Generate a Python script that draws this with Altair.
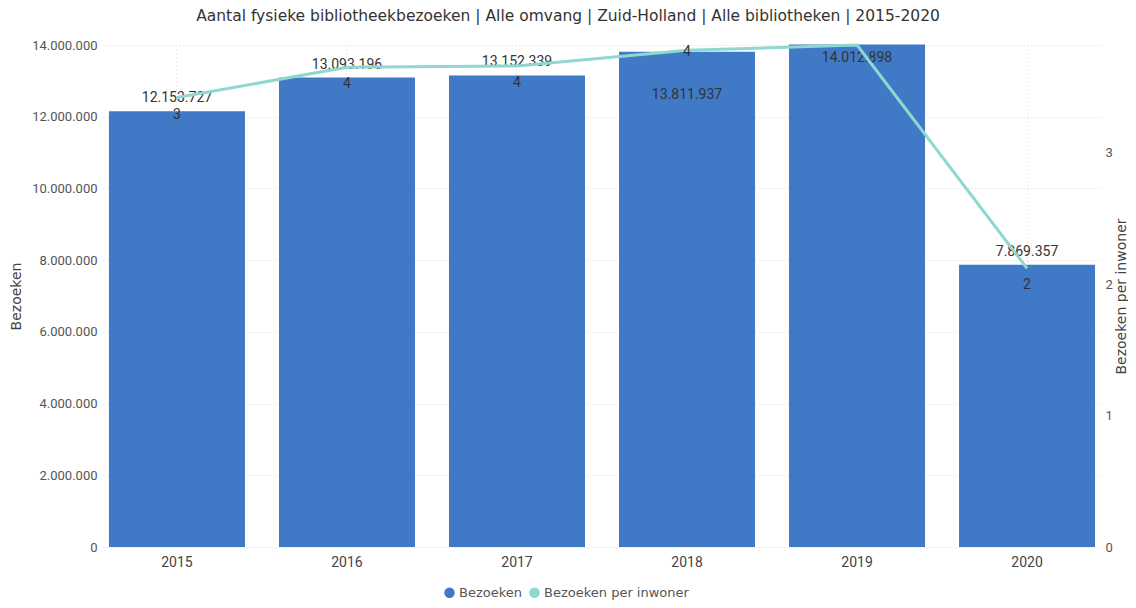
import altair as alt
import pandas as pd

years = ["2015", "2016", "2017", "2018", "2019", "2020"]
bezoeken = [12153727, 13093196, 13152339, 13811937, 14012898, 7869357]
per_inwoner = [3.42, 3.65, 3.66, 3.78, 3.82, 2.12]
series_names = ["Bezoeken", "Bezoeken per inwoner"]
series_colors = ["#4079C5", "#8FD7D1"]
left_ticks = [0, 2000000, 4000000, 6000000, 8000000, 10000000, 12000000, 14000000]
right_ticks = [0, 1, 2, 3]

df = pd.DataFrame({"year": years, "bezoeken": bezoeken, "per_inwoner": per_inwoner})

FONT = "Roboto"
WIDE = "DejaVu Sans"
base = alt.Chart(df)

x = alt.X("year:N", title=None,
          scale=alt.Scale(paddingInner=0.2, paddingOuter=0.035),
          axis=alt.Axis(labelAngle=0, ticks=False, domain=False, labelPadding=8,
                        grid=True, gridDash=[1, 3], gridColor="#d9d9d9",
                        labelFontSize=14, labelColor="#444", labelFont=FONT))

color = alt.Color("series:N",
                  scale=alt.Scale(domain=series_names, range=series_colors),
                  legend=alt.Legend(title=None, orient="none", legendX=340, legendY=541,
                                    direction="horizontal", symbolType="circle",
                                    symbolSize=110, symbolStrokeWidth=0,
                                    labelFontSize=13, labelColor="#555", labelFont=WIDE,
                                    columnPadding=6, symbolOffset=0, labelOffset=3))

yl = alt.Y("bezoeken:Q", title="Bezoeken",
           scale=alt.Scale(domain=[0, 14000000], nice=False),
           axis=alt.Axis(orient="left", values=left_ticks, labelExpr="format(datum.value, ',')",
                         domain=False, ticks=False,
                         grid=True, gridDash=[1, 3], gridColor="#d0d0d0",
                         labelFontSize=13, labelColor="#555", labelFont=FONT, labelPadding=6,
                         titleFontSize=14, titleColor="#444", titleFont=WIDE, titleFontWeight="normal",
                         titlePadding=8))

bars = base.mark_bar().transform_calculate(series="'Bezoeken'").encode(x=x, y=yl, color=color)

lbl_style = dict(fontSize=14, color="#333", font=FONT, baseline="middle")
bar_lbl_above = base.transform_filter(
    alt.FieldOneOfPredicate(field="year", oneOf=["2015", "2016", "2017", "2020"])
).mark_text(dy=-13, **lbl_style).encode(x=x, y=yl, text=alt.Text("bezoeken:Q", format=","))
bar_lbl_2018 = base.transform_filter(alt.datum.year == "2018").mark_text(dy=43, **lbl_style).encode(
    x=x, y=yl, text=alt.Text("bezoeken:Q", format=","))
bar_lbl_2019 = base.transform_filter(alt.datum.year == "2019").mark_text(dy=13, **lbl_style).encode(
    x=x, y=yl, text=alt.Text("bezoeken:Q", format=","))

left = alt.layer(bars, bar_lbl_above, bar_lbl_2018, bar_lbl_2019)

yr = alt.Y("per_inwoner:Q", title="Bezoeken per inwoner",
           scale=alt.Scale(domain=[0, 3.82], nice=False),
           axis=alt.Axis(orient="right", values=right_ticks, format="d", domain=False, ticks=False,
                         grid=False, labelFontSize=13, labelColor="#555", labelFont=FONT,
                         labelPadding=4, titleFontSize=14, titleColor="#444", titleFont=WIDE,
                         titleFontWeight="normal", titlePadding=16, titleAngle=270))

line = base.mark_line(strokeWidth=3).transform_calculate(series="'Bezoeken per inwoner'").encode(
    x=x, y=yr, color=color)
line_lbl = base.transform_filter(
    alt.FieldOneOfPredicate(field="year", oneOf=["2015", "2016", "2017", "2020"])
).mark_text(dy=17, **lbl_style).encode(x=x, y=yr, text=alt.Text("per_inwoner:Q", format=".0f"))
line_lbl_2018 = base.transform_filter(alt.datum.year == "2018").mark_text(dy=2, **lbl_style).encode(
    x=x, y=yr, text=alt.Text("per_inwoner:Q", format=".0f"))

right = alt.layer(line, line_lbl, line_lbl_2018)

chart = alt.layer(left, right).resolve_scale(y="independent").properties(
    width=998, height=502,
    title=alt.TitleParams("Aantal fysieke bibliotheekbezoeken | Alle omvang | Zuid-Holland | Alle bibliotheken | 2015-2020",
                          fontSize=15.5, font=WIDE, fontWeight="normal", color="#333",
                          anchor="middle", dx=-34, offset=15),
    autosize=alt.AutoSizeParams(type="none"),
    padding={"left": 95, "top": 37, "right": 27, "bottom": 55},
).configure_view(stroke=None)

chart.save("out.html", embed_options={"renderer": "svg", "actions": False,
                                      "formatLocale": {"decimal": ",", "thousands": ".",
                                                       "grouping": [3], "currency": ["€", ""]}})
